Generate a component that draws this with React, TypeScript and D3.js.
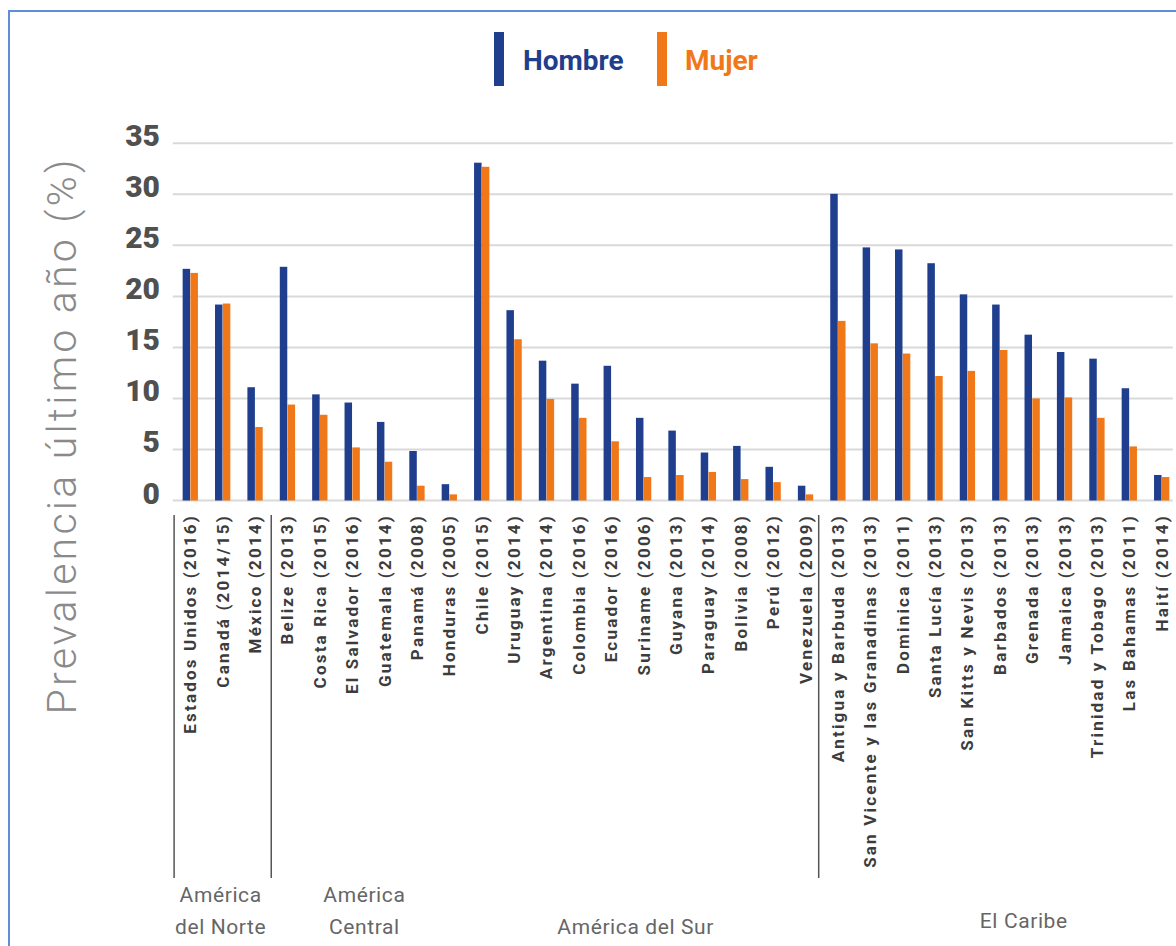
import React from "react";
import * as d3 from "d3";

const countries = [
  "Estados Unidos (2016)", "Canadá (2014/15)", "México (2014)",
  "Belize (2013)", "Costa Rica (2015)", "El Salvador (2016)", "Guatemala (2014)", "Panamá (2008)", "Honduras (2005)",
  "Chile (2015)", "Uruguay (2014)", "Argentina (2014)", "Colombia (2016)", "Ecuador (2016)", "Suriname (2006)",
  "Guyana (2013)", "Paraguay (2014)", "Bolivia (2008)", "Perú (2012)", "Venezuela (2009)",
  "Antigua y Barbuda (2013)", "San Vicente y las Granadinas (2013)", "Dominica (2011)", "Santa Lucía (2013)",
  "San Kitts y Nevis (2013)", "Barbados (2013)", "Grenada (2013)", "Jamaica (2013)", "Trinidad y Tobago (2013)",
  "Las Bahamas (2011)", "Haití (2014)",
];

const hombre = [
  22.7, 19.2, 11.1,
  22.9, 10.4, 9.6, 7.7, 4.85, 1.6,
  33.1, 18.65, 13.7, 11.45, 13.2, 8.1, 6.85, 4.7, 5.35, 3.3, 1.45,
  30.05, 24.8, 24.6, 23.25, 20.2, 19.2, 16.25, 14.55, 13.9, 11.0, 2.5,
];

const mujer = [
  22.3, 19.3, 7.2,
  9.4, 8.4, 5.2, 3.8, 1.45, 0.6,
  32.7, 15.8, 9.95, 8.1, 5.8, 2.3, 2.5, 2.8, 2.1, 1.8, 0.6,
  17.6, 15.4, 14.4, 12.2, 12.7, 14.75, 10.0, 10.1, 8.1, 5.3, 2.3,
];

const seriesNames = ["Hombre", "Mujer"];
const seriesColors = ["#1f3f8e", "#f07819"];

const yTicks = [0, 5, 10, 15, 20, 25, 30, 35];

const regionNames = [["América", "del Norte"], ["América", "Central"], ["América del Sur"], ["El Caribe"]];
const regionFirst = [0, 3, 9, 20];
const regionLast = [2, 8, 19, 30];
const regionSeparator = [true, true, false, true];

const W = 1176;
const H = 946;

export default function App() {
  const step = 32.38;
  const x0Start = 174.1;
  const x = d3.scaleBand<string>().domain(countries).range([x0Start, x0Start + step * countries.length]).padding(0);
  const pairW = 15.3;
  const xs = d3.scaleBand<string>().domain(seriesNames).range([(step - pairW) / 2, (step + pairW) / 2]).paddingInner(0.04);
  const y = d3.scaleLinear().domain([0, 35]).range([500.5, 143.3]);

  const gridX1 = 172.7;
  const gridX2 = 1172.7;
  const values = [hombre, mujer];

  const labelFont = "Roboto, 'Noto Sans', sans-serif";
  const regionDx = [-2, -4, -8, 24];

  return (
    <div style={{ position: "absolute", left: 0, top: 0 }}>
      <svg width={W} height={H} style={{ display: "block", background: "#fff" }}>
        {/* frame */}
        <path d={`M9,${H + 5} L9,11 L${W + 5},11`} fill="none" stroke="#5e8fd6" strokeWidth={2} />

        {/* legend */}
        <g>
          <rect x={494} y={32} width={10} height={54} fill={seriesColors[0]} />
          <text x={523} y={70} fontFamily={labelFont} fontWeight={700} fontSize={28} fill={seriesColors[0]}>
            {seriesNames[0]}
          </text>
          <rect x={657} y={32} width={10} height={54} fill={seriesColors[1]} />
          <text x={685} y={70} fontFamily={labelFont} fontWeight={700} fontSize={28} fill={seriesColors[1]}>
            {seriesNames[1]}
          </text>
        </g>

        {/* grid */}
        {yTicks.map((t) => (
          <g key={t}>
            <line x1={gridX1} x2={gridX2} y1={y(t)} y2={y(t)} stroke="#d9d9d9" strokeWidth={2} />
            <text x={160} y={y(t) + 3} textAnchor="end" fontFamily={labelFont} fontWeight={900} fontSize={30} fill="#505050">
              {t}
            </text>
          </g>
        ))}

        {/* y title */}
        <text
          transform={`translate(76, 437) rotate(-90)`}
          textAnchor="middle"
          fontFamily={labelFont}
          fontWeight={300}
          fontSize={41}
          fill="#8a8a8a"
          textLength={555}
          lengthAdjust="spacing"
        >
          Prevalencia último año (%)
        </text>

        {/* bars */}
        {countries.map((c, i) => (
          <g key={c} transform={`translate(${x(c)},0)`}>
            {values.map((vals, s) => (
              <rect
                key={s}
                x={xs(seriesNames[s])}
                y={y(vals[i])}
                width={xs.bandwidth()}
                height={y(0) - y(vals[i])}
                fill={seriesColors[s]}
              />
            ))}
          </g>
        ))}

        {/* category labels */}
        {countries.map((c) => {
          const cx = (x(c) as number) + step / 2;
          return (
            <text
              key={c}
              transform={`translate(${cx + 6}, 514) rotate(-90)`}
              textAnchor="end"
              fontFamily={labelFont}
              fontWeight={700}
              fontSize={17}
              letterSpacing={2.2}
              fill="#3c3c3c"
            >
              {c}
            </text>
          );
        })}

        {/* region separators */}
        {regionFirst.map((f, r) =>
          regionSeparator[r] ? (
            <line
              key={r}
              x1={(x(countries[f]) as number) - (r === 3 ? 3 : 0)}
              x2={(x(countries[f]) as number) - (r === 3 ? 3 : 0)}
              y1={515}
              y2={878}
              stroke="#555"
              strokeWidth={1.5}
            />
          ) : null
        )}

        {/* region labels */}
        {regionNames.map((lines, r) => {
          const a = x(countries[regionFirst[r]]) as number;
          const b = (x(countries[regionLast[r]]) as number) + step;
          const cx = (a + b) / 2 + regionDx[r];
          const baseY = lines.length === 2 ? 902 : r === 3 ? 928 : 934;
          return (
            <text
              key={r}
              textAnchor="middle"
              fontFamily={labelFont}
              fontWeight={400}
              fontSize={21}
              letterSpacing={0.6}
              fill="#666"
            >
              {lines.map((ln, k) => (
                <tspan key={k} x={cx} y={baseY + k * 32}>
                  {ln}
                </tspan>
              ))}
            </text>
          );
        })}
      </svg>
    </div>
  );
}
